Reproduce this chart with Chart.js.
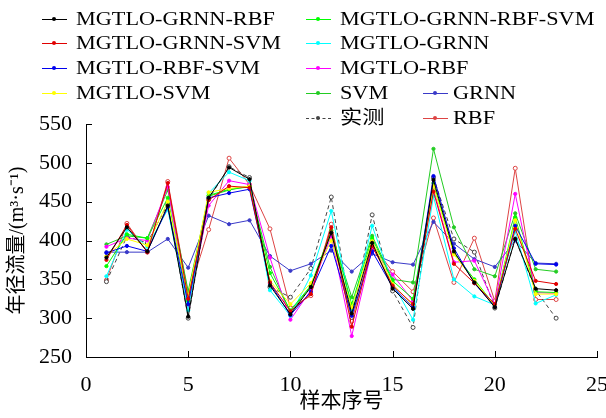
<!DOCTYPE html>
<html lang="zh">
<head>
    <meta charset="UTF-8">
    <title>年径流量 - 各模型对比</title>
    <script src="https://cdn.jsdelivr.net/npm/chart.js"></script>
    <style>
        body { margin: 0; background: #fff; }
        #wrap { position: relative; width: 606px; height: 418px; overflow: hidden; }
        #legend { position: absolute; left: 0; top: 0; width: 606px; height: 130px;
                  font-family: "Liberation Serif", "Noto Sans CJK SC", serif; font-size: 19px; color: #000; }
        .item { position: absolute; height: 24px; white-space: nowrap; }
        .swatch { position: absolute; top: 12px; left: 0; width: 25px; height: 0; border-top: 1px solid; }
        .swatch i { position: absolute; left: 10px; top: -3px; width: 4px; height: 4px; border-radius: 50%; }
        .label { position: absolute; top: 0; line-height: 24px; transform: scaleX(1.17); transform-origin: left center; }
    </style>
</head>
<body>
<div id="wrap">
    <canvas id="chart" width="606" height="418"></canvas>
    <div id="legend"></div>
</div>

<script>
    // 样本序号
    const samples = [1, 2, 3, 4, 5, 6, 7, 8, 9, 10, 11, 12, 13, 14, 15, 16, 17, 18, 19, 20, 21, 22, 23];

    // 各模型年径流量 (m3/s)
    const grnnRbf      = [378, 417, 386, 445, 302, 455, 494, 479, 342, 305, 340, 410, 306, 397, 338, 312, 478, 386, 346, 314, 402, 338, 336];
    const grnnSvm      = [375, 420, 385, 474, 325, 452, 470, 468, 346, 309, 331, 417, 289, 393, 342, 318, 463, 370, 345, 318, 415, 348, 344];
    const rbfSvm       = [384, 393, 386, 443, 318, 455, 461, 466, 345, 304, 334, 393, 303, 386, 340, 314, 483, 390, 345, 315, 419, 370, 369];
    const mgtloSvm     = [380, 402, 394, 450, 328, 462, 467, 470, 348, 318, 345, 400, 314, 399, 344, 316, 470, 382, 348, 316, 426, 331, 331];
    const grnnRbfSvm   = [367, 408, 403, 455, 322, 458, 466, 469, 358, 310, 342, 413, 318, 403, 348, 325, 474, 384, 350, 316, 430, 334, 333];
    const mgtloGrnn    = [354, 414, 392, 440, 310, 461, 488, 477, 336, 303, 355, 438, 310, 419, 345, 298, 457, 350, 328, 317, 412, 319, 330];
    const mgtloRbf     = [392, 403, 400, 469, 315, 445, 477, 472, 378, 298, 336, 406, 277, 390, 356, 322, 466, 372, 374, 318, 460, 333, 332];
    const svm          = [395, 406, 403, 465, 335, 457, 465, 470, 366, 308, 341, 410, 327, 406, 350, 346, 518, 417, 363, 354, 435, 363, 360];
    const grnn         = [385, 385, 385, 402, 365, 432, 421, 426, 380, 361, 370, 387, 360, 383, 372, 369, 424, 396, 376, 366, 400, 371, 370];
    const measured     = [347, 405, 397, 447, 300, 453, 495, 481, 340, 327, 364, 456, 301, 433, 335, 288, 481, 402, 385, 313, 402, 336, 300];
    const rbf          = [349, 422, 385, 476, 330, 414, 506, 472, 415, 313, 329, 421, 296, 395, 360, 334, 429, 346, 403, 322, 493, 324, 324];

    const seriesNames = ['MGTLO-GRNN-RBF', 'MGTLO-GRNN-SVM', 'MGTLO-RBF-SVM', 'MGTLO-SVM',
                         'MGTLO-GRNN-RBF-SVM', 'MGTLO-GRNN', 'MGTLO-RBF', 'SVM', 'GRNN', '实测', 'RBF'];
    const seriesValues = [grnnRbf, grnnSvm, rbfSvm, mgtloSvm, grnnRbfSvm, mgtloGrnn, mgtloRbf, svm, grnn, measured, rbf];
    const seriesColors = ['#000000', '#e00000', '#0000ee', '#ffff00', '#00ff00', '#00ffff', '#ff00ff',
                          '#22cc22', '#3a3ac8', '#444444', '#dd4444'];

    const xTicks = [0, 5, 10, 15, 20, 25];
    const yTicks = [250, 300, 350, 400, 450, 500, 550];

    // 图例位置 (左, 上)
    const legendPos = [[42, 7], [42, 31], [42, 56], [42, 81],
                       [306, 7], [306, 31], [306, 56], [306, 81], [423, 81], [306, 106], [423, 106]];

    const font = '"Liberation Serif", "Noto Sans CJK SC", serif';
    const openMarker = ['实测', 'RBF'];

    const datasets = seriesNames.map((name, k) => ({
        label: name,
        data: samples.map((s, i) => ({ x: s, y: seriesValues[k][i] })),
        borderColor: seriesColors[k],
        backgroundColor: openMarker.includes(name) ? '#ffffff' : seriesColors[k],
        borderWidth: 1,
        borderDash: name === '实测' ? [4, 3] : [],
        pointRadius: openMarker.includes(name) ? 2 : 1.6,
        pointBorderWidth: 1,
        tension: 0
    }));

    // 刻度朝内
    const inwardTicks = {
        id: 'inwardTicks',
        afterDraw(chart) {
            const { ctx, chartArea, scales } = chart;
            ctx.save();
            ctx.strokeStyle = '#000';
            ctx.lineWidth = 1;
            ctx.beginPath();
            scales.x.ticks.forEach(t => {
                const px = Math.round(scales.x.getPixelForValue(t.value)) + 0.5;
                ctx.moveTo(px, chartArea.bottom);
                ctx.lineTo(px, chartArea.bottom - 6);
            });
            scales.y.ticks.forEach(t => {
                const py = Math.round(scales.y.getPixelForValue(t.value)) + 0.5;
                ctx.moveTo(chartArea.left, py);
                ctx.lineTo(chartArea.left + 6, py);
            });
            ctx.stroke();
            ctx.restore();
        }
    };

    new Chart(document.getElementById('chart'), {
        type: 'line',
        data: { datasets: datasets },
        options: {
            responsive: false,
            animation: false,
            layout: { padding: { top: 124, right: 9, left: 0, bottom: 0 } },
            plugins: { legend: { display: false }, tooltip: { enabled: false } },
            scales: {
                x: {
                    type: 'linear',
                    min: 0, max: 25,
                    afterBuildTicks: s => { s.ticks = xTicks.map(v => ({ value: v })); },
                    afterFit: s => { s.height = 61; s.paddingRight = 0; },
                    grid: { display: false },
                    border: { display: true, color: '#000', width: 1 },
                    ticks: { color: '#000', font: { family: font, size: 22 }, padding: 7, maxRotation: 0 },
                    title: { display: true, text: '样本序号', color: '#000',
                             font: { family: font, size: 21 }, padding: { top: 0 } }
                },
                y: {
                    min: 250, max: 550,
                    afterBuildTicks: s => { s.ticks = yTicks.map(v => ({ value: v })); },
                    afterFit: s => { s.width = 86; },
                    grid: { display: false },
                    border: { display: true, color: '#000', width: 1 },
                    ticks: { color: '#000', font: { family: font, size: 22 }, padding: 6 },
                    title: { display: true, text: '年径流量/(m³·s⁻¹)', color: '#000',
                             font: { family: font, size: 20 }, padding: { top: 6, bottom: 0 } }
                }
            }
        },
        plugins: [inwardTicks]
    });

    // HTML 图例
    const legend = document.getElementById('legend');
    seriesNames.forEach((name, k) => {
        const item = document.createElement('div');
        item.className = 'item';
        item.style.left = legendPos[k][0] + 'px';
        item.style.top = legendPos[k][1] + 'px';
        const sw = document.createElement('span');
        sw.className = 'swatch';
        sw.style.borderTopColor = seriesColors[k];
        if (name === '实测') sw.style.borderTopStyle = 'dashed';
        const dot = document.createElement('i');
        dot.style.background = seriesColors[k];
        sw.appendChild(dot);
        const lab = document.createElement('span');
        lab.className = 'label';
        lab.style.left = (name === 'GRNN' || name === 'RBF' ? 30 : 34) + 'px';
        lab.textContent = name;
        item.appendChild(sw);
        item.appendChild(lab);
        legend.appendChild(item);
    });
</script>
</body>
</html>
